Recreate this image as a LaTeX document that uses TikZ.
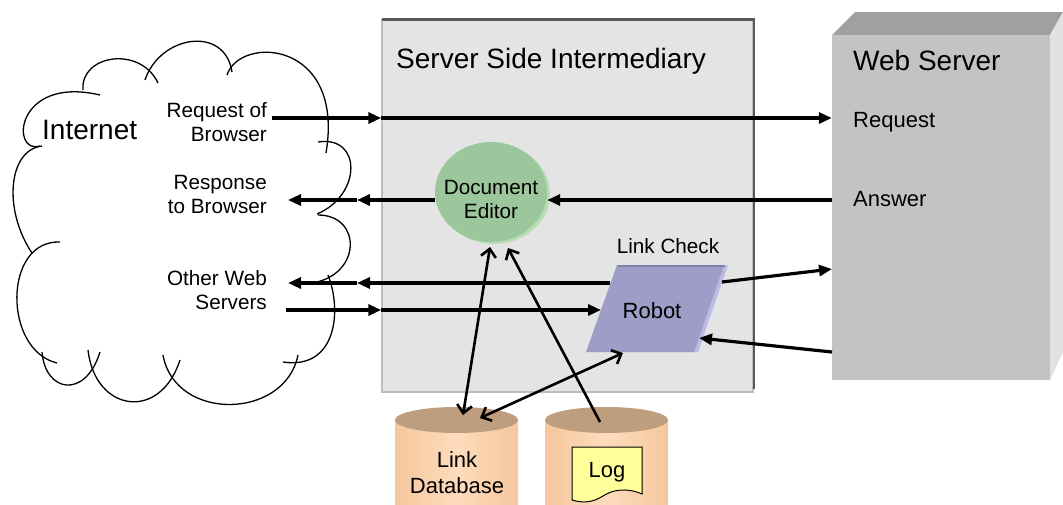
\documentclass[tikz,border=0pt]{standalone}
\usepackage{fontspec}
\setmainfont{Liberation Sans}
\usetikzlibrary{arrows.meta,shapes.geometric,calc}
\definecolor{sbfill}{HTML}{E4E4E4}
\definecolor{sbedge}{HTML}{BDBDBD}
\definecolor{sbshadow}{HTML}{5A5A5A}
\definecolor{wsfront}{HTML}{C3C3C3}
\definecolor{wstop}{HTML}{A0A0A0}
\definecolor{wsside}{HTML}{E2E2E2}
\definecolor{defill}{HTML}{9CC69C}
\definecolor{derim}{HTML}{B8DDB2}
\definecolor{robfill}{HTML}{9D9DC7}
\definecolor{robtop}{HTML}{8080AC}
\definecolor{robrim}{HTML}{BBBBE6}
\definecolor{cyltop}{HTML}{BE9E7E}
\definecolor{cylbody}{HTML}{F5C79C}
\definecolor{cylmid}{HTML}{FDDCBD}
\definecolor{logfill}{HTML}{FFFF99}
\begin{document}
\begin{tikzpicture}[x=1pt,y=-1pt,
  cloudline/.style={line width=1.3pt,black},
  lbl/.style={inner sep=0pt,font=\fontsize{20.7}{24}\selectfont},
  mlbl/.style={inner sep=0pt,font=\fontsize{22}{26}\selectfont},
  big/.style={inner sep=0pt,font=\fontsize{28}{32}\selectfont},
  arr/.style={line width=3.2pt,-{Triangle[length=13pt,width=11pt]}},
  barb/.style={line width=2.6pt,-{Straight Barb[length=8pt,width=15pt]}},
  dbarb/.style={line width=2.6pt,{Straight Barb[length=8pt,width=15pt]}-{Straight Barb[length=8pt,width=15pt]}}
]
\useasboundingbox (0,0) rectangle (1063,504);
\clip (0,0) rectangle (1063,504);
\fill[white] (0,0) rectangle (1063,504);

% ---------- cloud ----------
\draw[cloudline] (40,146) .. controls (10,155) and (15,75) .. (100,95);
\draw[cloudline] (83,90) .. controls (80,55) and (140,45) .. (158,83);
\draw[cloudline] (145,80) .. controls (160,35) and (225,25) .. (232,72);
\draw[cloudline] (227,75) .. controls (240,35) and (345,40) .. (326,153);
\draw[cloudline] (318,142) .. controls (362,135) and (362,195) .. (317,214);
\draw[cloudline] (318,215) .. controls (362,215) and (362,275) .. (312,283);
\draw[cloudline] (328,275) .. controls (342,310) and (337,370) .. (283,362);
\draw[cloudline] (298,355) .. controls (285,420) and (175,422) .. (163,355);
\draw[cloudline] (180,360) .. controls (160,422) and (95,412) .. (88,350);
\draw[cloudline] (100,352) .. controls (85,400) and (45,392) .. (42,352);
\draw[cloudline] (57,363) .. controls (3,350) and (3,240) .. (60,242);
\draw[cloudline] (32,253) .. controls (3,210) and (8,150) .. (42,146);

\node[big,anchor=base west] (inet) at (42,139) {Internet};
\node[lbl,anchor=base east,align=right] (reqlab) at (267,141) {Request of\\Browser};
\node[lbl,anchor=base east,align=right] (resplab) at (267,213) {Response\\to Browser};
\node[lbl,anchor=base east,align=right] (othlab) at (267,309) {Other Web\\Servers};

% ---------- server side intermediary ----------
\node[fill=sbfill,draw=sbedge,line width=1.5pt,minimum width=371pt,minimum height=372pt,inner sep=0pt] (sb) at (567.5,206) {};
\draw[sbshadow,line width=2.5pt] ($(sb.north west)+(1,0)$) -- (sb.north east) -- ($(sb.south east)+(0,-4)$);
\node[big,anchor=base west] (sbt) at (396,68) {Server Side Intermediary};

% ---------- web server ----------
\fill[wstop] (832,35) -- (855,12) -- (1063,12) -- (1050,35) -- cycle;
\fill[wsside] (1050,35) -- (1063,12) -- (1063,352) -- (1050,380) -- cycle;
\node[fill=wsfront,minimum width=218pt,minimum height=345pt,inner sep=0pt] (ws) at (941,207.5) {};
\node[big,anchor=base west] (wst) at (853,70) {Web Server};
\node[mlbl,anchor=base west] (wsreq) at (853,127) {Request};
\node[mlbl,anchor=base west] (wsans) at (853,206) {Answer};

% ---------- cylinders ----------
\shade[left color=cylbody,right color=cylbody,middle color=cylmid] (395,420) rectangle (518,510);
\fill[cyltop] (456.5,420) ellipse [x radius=61.5pt,y radius=13pt];
\node[mlbl,anchor=base,align=center] (ldb) at (457,493) {Link\\Database};

\shade[left color=cylbody,right color=cylbody,middle color=cylmid] (545,420) rectangle (668,510);
\fill[cyltop] (606.5,420) ellipse [x radius=61.5pt,y radius=13pt];
\draw[black,fill=logfill,line width=1pt] (572,447) -- (642,447) -- (642,494)
  .. controls (626,487) and (612,490) .. (603,496)
  .. controls (592,503) and (582,503) .. (572,500) -- cycle;
\node[mlbl,anchor=base] (log) at (607,477) {Log};

% ---------- endpoint coordinates ----------
\coordinate (r0) at (272,118);
\coordinate (resp1) at (357,200);
\coordinate (resp0) at (288,200);
\coordinate (o1) at (357,283);
\coordinate (o0) at (288,283);
\coordinate (o2) at (286,310);
\coordinate (rl1) at (610,283);
\coordinate (rl2) at (601,310);
\coordinate (rr1) at (722,282);
\coordinate (rr2) at (699,338);
\coordinate (rb) at (623,353);
\coordinate (wsA) at (832,269);
\coordinate (wsB) at (832,352);
\coordinate (ldb1) at (463,415);
\coordinate (ldb2) at (480,418);
\coordinate (de1) at (490,247);
\coordinate (de2) at (508,248);
\coordinate (log1) at (600,422);

% ---------- robot ----------
\fill[robrim] (617,265) -- (728,265) -- (698,352) -- (589,352) -- cycle;
\fill[robfill] (617,265) -- (724,265) -- (694,352) -- (586,352) -- cycle;
\draw[robtop,line width=2pt] (618,266) -- (725,266);
\node[mlbl,anchor=base] (rob) at (652,318) {Robot};
\node[lbl,anchor=base] (lcheck) at (668,253) {Link Check};

% ---------- document editor ----------
\fill[derim] (494,194) ellipse [x radius=56pt,y radius=50pt];
\node[ellipse,fill=defill,minimum width=112pt,minimum height=100pt,inner sep=0pt] (de) at (491,192) {};
\node[lbl,align=center,anchor=base] (detext) at (491,218) {Document\\Editor};

% ---------- connectors ----------
\draw[arr] (r0) -- (sb.west |- r0);
\draw[arr] (sb.west |- r0) -- (ws.west |- r0);
\draw[arr] (de.west |- resp1) -- (resp1);
\draw[arr] (resp1) -- (resp0);
\draw[arr] (ws.west |- resp1) -- (de.east |- resp1);
\draw[arr] (rl1) -- (o1);
\draw[arr] (o1) -- (o0);
\draw[arr] (o2) -- (sb.west |- o2);
\draw[arr] (sb.west |- o2) -- (rl2);
\draw[arr] (rr1) -- (wsA);
\draw[arr] (wsB) -- (rr2);
\draw[dbarb] (ldb1) -- (de1);
\draw[dbarb] (ldb2) -- (rb);
\draw[barb] (log1) -- (de2);
\end{tikzpicture}
\end{document}
